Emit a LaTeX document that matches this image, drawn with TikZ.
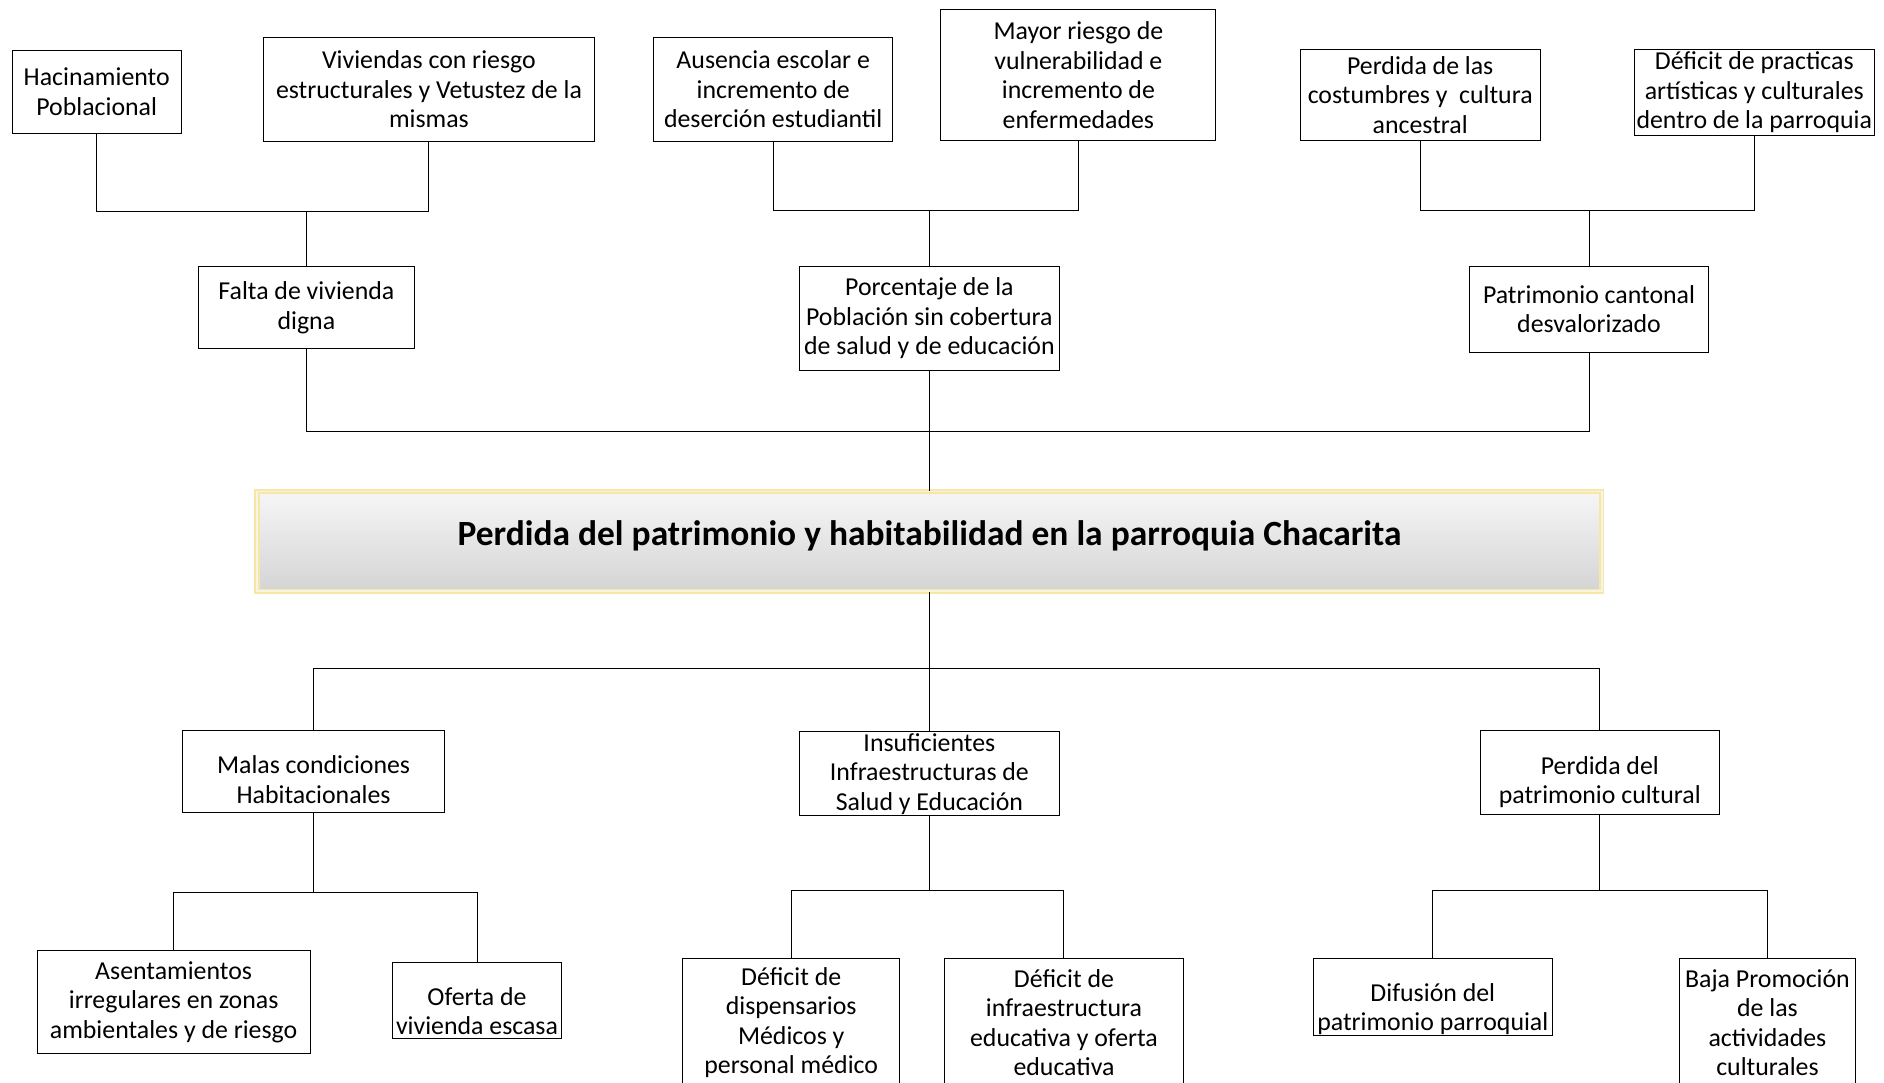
\documentclass[tikz,border=0pt]{standalone}
\usepackage{fontspec}
\setmainfont{Carlito}
\usetikzlibrary{positioning}
\definecolor{CoreEdge}{RGB}{246,230,168}
\definecolor{CoreGap}{RGB}{248,244,228}
\definecolor{CoreTop}{RGB}{246,246,246}
\definecolor{CoreBottom}{RGB}{212,212,212}

\begin{document}
\begin{tikzpicture}[x=1pt, y=-1pt,
  txt/.style={align=center, inner sep=0pt, font=\fontsize{21.5}{24.5}\selectfont},
  box/.style={txt, draw=black, line width=0.8pt, fill=white},
  wh/.style 2 args={minimum width=#1pt, minimum height=#2pt},
  core/.style={draw=CoreEdge, line width=1.5pt, double=CoreGap, double distance=1.4pt, top color=CoreTop, bottom color=CoreBottom, align=center, inner sep=0pt, text height=21pt, text depth=14pt, font=\fontsize{29.5}{34}\selectfont\bfseries},
  link/.style={draw=black, line width=0.8pt}]
\useasboundingbox (0,0) rectangle (1568,901);
% upper row: effects
\node[box, wh={141}{69}] (hac) at (80.5,76.5) {Hacinamiento\\Poblacional};
\node[box, wh={276}{87}] (viv) at (357,74.5) {Viviendas con riesgo\\estructurales y Vetustez de la\\mismas};
\node[box, wh={199}{87}] (aus) at (643.5,74.5) {Ausencia escolar e\\incremento de\\deserción estudiantil};
\node[box, wh={229}{109}] (may) at (897.5,62.5) {Mayor riesgo de\\vulnerabilidad e\\incremento de\\enfermedades};
\node[box, wh={200}{76}] (per) at (1182,79) {Perdida de las\\costumbres y\ \ cultura\\ancestral};
\node[box, wh={200}{72}] (dep) at (1460,77) {Déficit de practicas\\artísticas y culturales\\dentro de la parroquia};
\node[box, wh={180}{68}] (fal) at (255,256) {Falta de vivienda\\digna};
\node[box, wh={217}{86}] (por) at (773.5,265) {Porcentaje de la\\Población sin cobertura\\de salud y de educación};
\node[box, wh={199}{71}] (pat) at (1322.5,257.5) {Patrimonio cantonal\\desvalorizado};
% central problem
\node[core, wh={1119}{83}] (prob) at (773.5,450.5) {Perdida del patrimonio y habitabilidad en la parroquia Chacarita};
% lower row: causes
\node[box, wh={218}{68}, label={[txt, yshift=-7pt]center:Malas condiciones\\Habitacionales}] (mal) at (261,642) {};
\node[box, wh={217}{70}] (ins) at (773.5,644) {Insuficientes\\Infraestructuras de\\Salud y Educación};
\node[box, wh={199}{70}, label={[txt, yshift=-8pt]center:Perdida del\\patrimonio cultural}] (pcu) at (1331.5,643) {};
\node[box, wh={227}{86}] (ase) at (144.5,834) {Asentamientos\\irregulares en zonas\\ambientales y de riesgo};
\node[box, wh={140}{63}, label={[txt, yshift=-9pt]center:Oferta de\\vivienda escasa}] (ofe) at (397,832.5) {};
\node[box, wh={181}{106}] (dis) at (658.5,851) {Déficit de\\dispensarios\\Médicos y\\personal médico};
\node[box, wh={199}{106}] (din) at (885.5,851) {Déficit de\\infraestructura\\educativa y oferta\\educativa};
\node[box, wh={199}{64}, label={[txt, yshift=-10pt]center:Difusión del\\patrimonio parroquial}] (dif) at (1192.5,830) {};
\node[box, wh={146}{106}] (baj) at (1471,851) {Baja Promoción\\de las\\actividades\\culturales};
% bus levels
\coordinate (busA) at (0,176);
\coordinate (busB) at (0,175);
\coordinate (busC) at (0,175);
\coordinate (busTop) at (0,359);
\coordinate (busBot) at (0,556);
\coordinate (busM) at (0,743);
\coordinate (busI) at (0,741);
\coordinate (busP) at (0,741);
% connectors above
\draw[link] (hac.south) |- (busA -| viv.south) -- (viv.south);
\draw[link] (fal.north) -- (fal.north |- busA);
\draw[link] (aus.south) |- (busB -| may.south) -- (may.south);
\draw[link] (por.north) -- (por.north |- busB);
\draw[link] (per.south) |- (busC -| dep.south) -- (dep.south);
\draw[link] (pat.north) -- (pat.north |- busC);
\draw[link] (fal.south) |- (busTop -| pat.south) -- (pat.south);
\draw[link] (por.south) -- (prob.north);
% connectors below
\draw[link] (prob.south) -- (prob.south |- busBot);
\draw[link] (mal.north) |- (busBot -| pcu.north) -- (pcu.north);
\draw[link] (ins.north) -- (ins.north |- busBot);
\draw[link] (mal.south) -- (mal.south |- busM);
\draw[link] (ase.north) |- (busM -| ofe.north) -- (ofe.north);
\draw[link] (ins.south) -- (ins.south |- busI);
\draw[link] (dis.north) |- (busI -| din.north) -- (din.north);
\draw[link] (pcu.south) -- (pcu.south |- busP);
\draw[link] (dif.north) |- (busP -| baj.north) -- (baj.north);
\end{tikzpicture}
\end{document}
